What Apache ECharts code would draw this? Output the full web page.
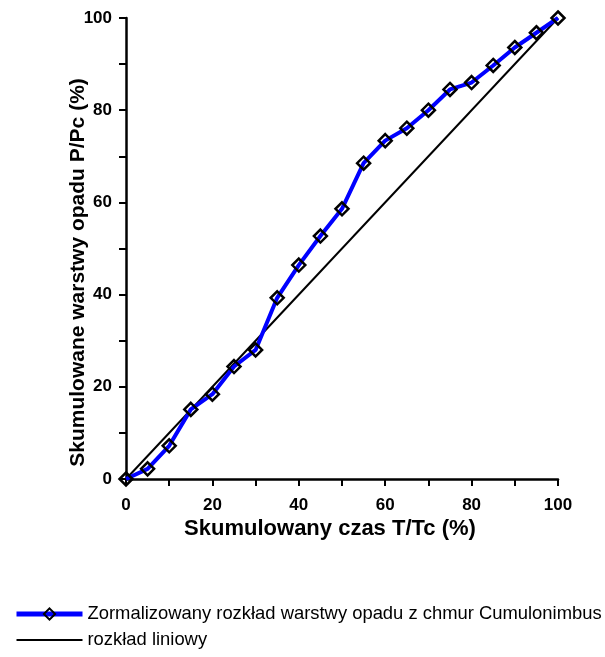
<!DOCTYPE html>
<html>
<head>
<meta charset="utf-8">
<script src="https://cdn.jsdelivr.net/npm/echarts@6/dist/echarts.min.js"></script>
<style>
html, body { margin: 0; padding: 0; background: #fff; }
#chart { width: 605px; height: 657px; }
</style>
</head>
<body>
<div id="chart"></div>
<script>
// czas skumulowany T/Tc (%)
var czas = [0, 5, 10, 15, 20, 25, 30, 35, 40, 45, 50, 55, 60, 65, 70, 75, 80, 85, 90, 95, 100]
// skumulowany opad P/Pc (%)
var opad = [0, 2.2, 7.2, 15.1, 18.4, 24.4, 28.0, 39.3, 46.4, 52.7, 58.6, 68.5, 73.4, 76.1, 80.0, 84.5, 86.0, 89.7, 93.6, 96.8, 100]
var liniowyX = [0, 100]
var liniowyY = [0, 100]

var nazwaOpad = 'Zormalizowany rozkład warstwy opadu z chmur Cumulonimbus'
var nazwaLiniowy = 'rozkład liniowy'

var font = '"Liberation Sans", Arial, sans-serif'

var chart = echarts.init(document.getElementById('chart'))

var axisCommon = {
	type: 'value',
	min: 0,
	max: 100,
	interval: 10,
	nameLocation: 'middle',
	nameMoveOverlap: false,
	axisLine: { lineStyle: { color: '#000', width: 2.5 } },
	axisTick: { show: true, inside: false, length: 7, lineStyle: { color: '#000', width: 2 } },
	axisLabel: {
		fontFamily: font, fontWeight: 'bold', fontSize: 17, color: '#000',
		formatter: function (v) { return v % 20 === 0 ? v : '' }
	},
	splitLine: { show: false }
}

var option = {
	animation: false,
	backgroundColor: '#fff',
	grid: { left: 126, right: 47, top: 18, bottom: 178 },
	xAxis: Object.assign({}, axisCommon, {
		name: 'Skumulowany czas T/Tc (%)',
		nameGap: 39,
		nameTextStyle: { fontFamily: font, fontWeight: 'bold', fontSize: 22, color: '#000', padding: [0, 24, 0, 0] },
		axisLabel: Object.assign({}, axisCommon.axisLabel, { margin: 18 })
	}),
	yAxis: Object.assign({}, axisCommon, {
		name: 'Skumulowane warstwy opadu P/Pc (%)',
		nameGap: 37,
		nameTextStyle: { fontFamily: font, fontWeight: 'bold', fontSize: 21, color: '#000', padding: [0, 48, 0, 0] },
		axisLabel: Object.assign({}, axisCommon.axisLabel, { margin: 14 })
	}),
	legend: {
		orient: 'vertical',
		left: 9,
		top: 600,
		itemWidth: 66,
		itemHeight: 14,
		itemGap: 8,
		textStyle: { fontFamily: '"Liberation Sans Narrow", "Liberation Sans", Arial, sans-serif', fontSize: 18.4, color: '#000' },
		data: [
			{ name: nazwaOpad, lineStyle: { width: 5 } },
			nazwaLiniowy
		]
	},
	series: [
		{
			name: nazwaLiniowy,
			type: 'line',
			data: liniowyX.map(function (x, i) { return [x, liniowyY[i]] }),
			symbol: 'none',
			lineStyle: { color: '#000', width: 2 },
			itemStyle: { color: '#000', opacity: 0 },
			z: 2
		},
		{
			name: nazwaOpad,
			type: 'line',
			data: czas.map(function (x, i) { return [x, opad[i]] }),
			symbol: 'diamond',
			symbolSize: 13,
			lineStyle: { color: '#0000ff', width: 4 },
			itemStyle: { color: 'rgba(0,0,255,0)', borderColor: '#000', borderWidth: 2.5 },
			z: 3
		}
	]
}

chart.setOption(option)
</script>
</body>
</html>
